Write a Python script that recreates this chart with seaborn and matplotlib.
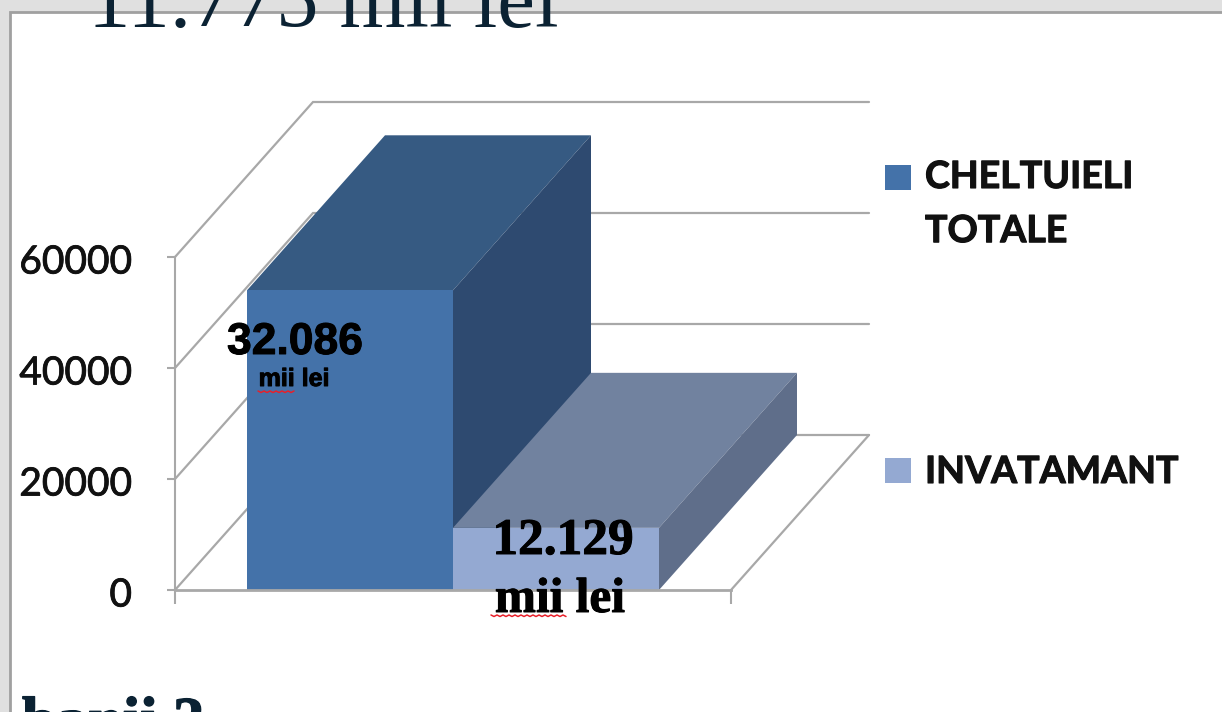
import numpy as np
import pandas as pd
import seaborn as sns
import matplotlib.pyplot as plt
import matplotlib.patheffects as pe
from matplotlib.lines import Line2D
from matplotlib.patches import Polygon, Rectangle
from matplotlib.transforms import Affine2D

categorii = ["CHELTUIELI TOTALE", "INVATAMANT"]
# drawn heights (they do not follow the printed labels)
valori = [54000, 11200]
etichete = ["32.086", "12.129"]
y_ticks = [0, 20000, 40000, 60000]
culori_fata = ["#4472A9", "#94A9D2"]
culori_sus = ["#365A82", "#71829F"]
culori_lateral = ["#2E4A70", "#5F6E8A"]

W, H = 1222, 712
GRI = "#A8A8A8"
TEXT_INCHIS = "#0B2233"

sns.set_theme(style="white")
plt.rcParams["font.family"] = ["Lato", "DejaVu Sans"]

fig = plt.figure(figsize=(W / 100, H / 100), dpi=100, facecolor="#E0E0E0")

# pixel coordinates, origin top left
px = Affine2D().scale(1 / W, -1 / H).translate(0, 1) + fig.transFigure

# heavier text, the reference is a blurred screenshot
gros = [pe.withStroke(linewidth=0.7, foreground="black")]

fig.add_artist(Rectangle((10, 12), W, H, transform=px, fc="white", ec="#A0A0A0", lw=2, zorder=-1))

ax = fig.add_axes([175 / W, (H - 590) / H, 556 / W, 333 / H], facecolor="none")

df = pd.DataFrame({"grup": [""] * 2, "categorie": categorii, "valoare": valori})
sns.barplot(data=df, x="grup", y="valoare", hue="categorie", palette=culori_fata,
            width=412 / 556, saturation=1, legend=False, ax=ax, zorder=5)

ax.set_xlim(-0.5, 0.5)
ax.set_ylim(0, 60000)
ax.set_xlabel("")
ax.set_ylabel("")

# depth of the fake 3d box, in data units
dx = 138 / 556
dy = 155 / 333 * 60000

# walls
x0, x1 = -0.5, 0.5
for v in y_ticks:
    ax.plot([x0, x0 + dx, x1 + dx], [v, v + dy, v + dy], color=GRI, lw=1.6,
            clip_on=False, zorder=1, solid_joinstyle="miter")
ax.plot([x1, x1 + dx], [0, dy], color=GRI, lw=1.6, clip_on=False, zorder=1)

# sides and tops of the bars
for i, bar in enumerate(ax.patches):
    st = bar.get_x()
    dr = st + bar.get_width()
    h = bar.get_height()
    sus = [(st, h), (dr, h), (dr + dx, h + dy), (st + dx, h + dy)]
    lat = [(dr, 0), (dr + dx, dy), (dr + dx, h + dy), (dr, h)]
    ax.add_patch(Polygon(sus, fc=culori_sus[i], ec="none", clip_on=False, zorder=3 + 2 * i))
    ax.add_patch(Polygon(lat, fc=culori_lateral[i], ec="none", clip_on=False, zorder=3 + 2 * i))
    bar.set_zorder(4 + 2 * i)
    bar.set_edgecolor("none")

sns.despine(ax=ax, right=True, top=True)
ax.spines["left"].set_color(GRI)
ax.spines["bottom"].set_color(GRI)
ax.spines["left"].set_linewidth(1.5)
ax.spines["bottom"].set_linewidth(2)
ax.spines["bottom"].set_zorder(10)
ax.set_yticks(y_ticks)
ax.set_xticks([x0, x1])
ax.set_xticklabels([])
ax.tick_params(axis="y", length=6, width=1.5, color=GRI, labelsize=28, pad=25,
               labelcolor="#111111", left=True)
ax.tick_params(axis="x", length=10, width=1.5, color=GRI, bottom=True)
for lab in ax.get_yticklabels():
    lab.set_transform(lab.get_transform() + Affine2D().translate(0, -2))
    lab.set_path_effects([pe.withStroke(linewidth=0.6, foreground="#111111")])

# legend
leg_y = [177, 470]
leg_top = [160, 455]
leg_text = ["CHELTUIELI\nTOTALE", "INVATAMANT"]
for c, y, top, t in zip(culori_fata, leg_y, leg_top, leg_text):
    fig.add_artist(Rectangle((885, y - 12), 26, 25, transform=px, fc=c, ec="none"))
    fig.text(925, top, t, transform=px, fontsize=27, fontweight="bold", color="#111111",
             va="top", ha="left", linespacing=1.72,
             path_effects=[pe.withStroke(linewidth=0.8, foreground="#111111")])

# value labels
fig.text(295, 354, etichete[0], transform=px, ha="center", va="baseline", fontsize=32,
         fontweight="bold", family="Liberation Sans", color="black", zorder=20, path_effects=gros)
fig.text(294, 386, "mii lei", transform=px, ha="center", va="baseline", fontsize=18,
         fontweight="bold", family="Liberation Sans", color="black", zorder=20, path_effects=gros)
fig.text(563, 554, etichete[1], transform=px, ha="center", va="baseline", fontsize=37,
         fontweight="bold", family="Liberation Serif", color="black", zorder=20, path_effects=gros)
fig.text(560, 612, "mii lei", transform=px, ha="center", va="baseline", fontsize=35.5,
         fontweight="bold", family="Liberation Serif", color="black", zorder=20, path_effects=gros)


def squiggle(x_st, x_dr, y):
    xs = np.arange(x_st, x_dr + 1, 3)
    ys = y + 1.5 * (np.arange(len(xs)) % 2)
    fig.add_artist(Line2D(xs, ys, transform=px, color="#E8202A", lw=1.1, zorder=21))


squiggle(258, 295, 391)
squiggle(491, 567, 615)

# slide text cut by the picture edge
fig.text(88, 27, "11.775 mii lei", transform=px, fontsize=61, family="Liberation Serif",
         color=TEXT_INCHIS, va="baseline", ha="left", zorder=20)
fig.text(22, 740, "banii ?", transform=px, fontsize=45, family="Liberation Serif",
         fontweight="bold", color=TEXT_INCHIS, va="baseline", ha="left", zorder=20,
         path_effects=[pe.withStroke(linewidth=1.0, foreground=TEXT_INCHIS)])

fig.savefig("out.png", dpi=100, facecolor=fig.get_facecolor())
